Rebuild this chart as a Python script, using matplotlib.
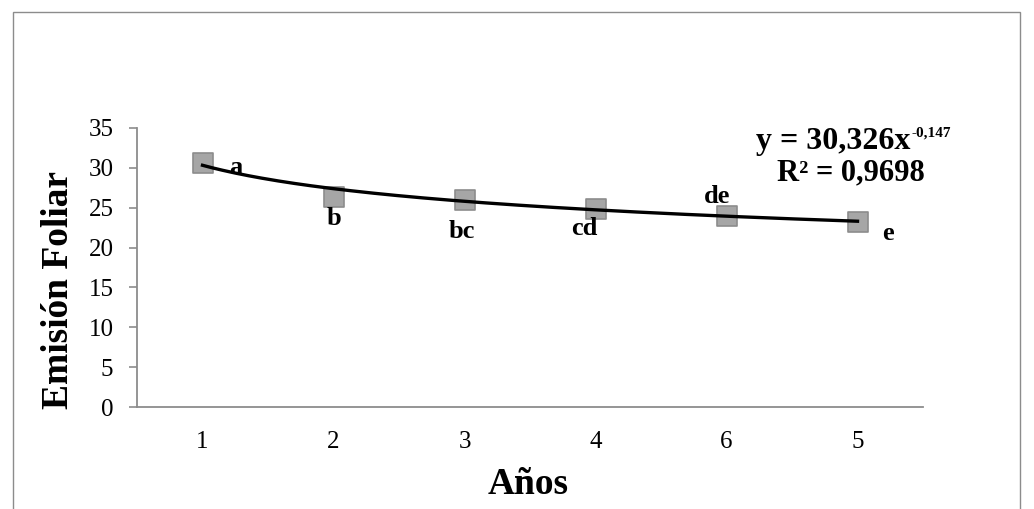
import matplotlib
matplotlib.use("Agg")
import matplotlib.pyplot as plt
import numpy as np
from matplotlib.patches import Rectangle

plt.rcParams['font.family'] = ['Liberation Serif', 'DejaVu Serif']

# Data
categories = ['1', '2', '3', '4', '6', '5']
values = [30.6, 26.4, 26.0, 24.9, 24.0, 23.2]
letters = ['a', 'b', 'bc', 'cd', 'de', 'e']
fit_a, fit_b = 30.326, -0.147
y_ticks = [0, 5, 10, 15, 20, 25, 30, 35]

W, H = 1034, 509
fig = plt.figure(figsize=(W / 100, H / 100), dpi=100)

# outer chart frame
fig.patches.append(Rectangle((13 / W, -0.05), (1020 - 13) / W, 1 - 12 / H + 0.05,
                             transform=fig.transFigure, fill=False,
                             edgecolor='#8c8c8c', linewidth=1.0))

ax = fig.add_axes([137 / W, (H - 407) / H, (923 - 137) / W, (407 - 128) / H])
x = np.arange(1, len(categories) + 1)

# trend line
xs = np.linspace(1, len(categories), 200)
ax.plot(xs, fit_a * xs ** fit_b, color='black', linewidth=2.4, zorder=3)

ax.scatter(x, values, marker='s', s=200, facecolor='#a6a6a6',
           edgecolor='#8c8c8c', linewidth=1.2, zorder=2)

# letter labels (offsets in points)
offsets = [(24, -3), (0, -16), (-2, -23), (-8, -14.5), (-6.5, 14), (22, -8)]
for xi, yi, lab, (dx, dy) in zip(x, values, letters, offsets):
    ax.annotate(lab, (xi, yi), xytext=(dx, dy), textcoords='offset points',
                ha='center', va='center', fontsize=19, fontweight='bold')

ax.set_xlim(0.5, len(categories) + 0.5)
ax.set_ylim(0, 35)
ax.set_xticks(x)
ax.set_xticklabels(categories)
ax.set_yticks(y_ticks)
ax.tick_params(axis='x', length=0, pad=17, labelsize=18)
ax.tick_params(axis='y', length=6, color='#8c8c8c', width=1.2, pad=11, labelsize=18)
for s in ['top', 'right']:
    ax.spines[s].set_visible(False)
for s in ['left', 'bottom']:
    ax.spines[s].set_color('#8c8c8c')
    ax.spines[s].set_linewidth(1.3)

fig.text(59 / W, 1 - 290 / H, 'Emisión Foliar', rotation=90, ha='center', va='center',
         fontsize=27, fontweight='bold')
fig.text(528 / W, 1 - 484 / H, 'Años', ha='center', va='center',
         fontsize=27, fontweight='bold')

# equation
eq = fig.text(756 / W, 1 - 142 / H, 'y = 30,326x', ha='left', va='center',
              fontsize=23, fontweight='bold')
fig.canvas.draw()
fig.text(0, 0, '-0,147', fontsize=11, fontweight='bold', ha='left', va='center')
bb = eq.get_window_extent()
sup = fig.texts[-1]
sup.set_position(((bb.x1 + 1) / W, (bb.y1 - 6) / H))
fig.text(851 / W, 1 - 173 / H, 'R² = 0,9698', ha='center', va='center',
         fontsize=22, fontweight='bold')

fig.savefig('out.png', dpi=100)
